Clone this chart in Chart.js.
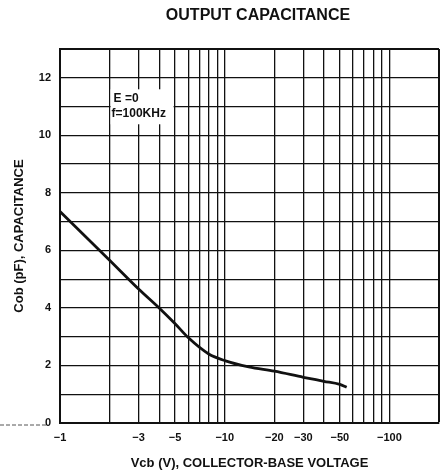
<!DOCTYPE html>
<html>
<head>
<meta charset="utf-8">
<script src="https://cdn.jsdelivr.net/npm/chart.js@4/dist/chart.umd.min.js"></script>
<style>
  body { margin: 0; background: #fff; }
  #wrap { width: 442px; height: 475px; }
</style>
</head>
<body>
<div id="wrap"><canvas id="cobChart" width="442" height="475"></canvas></div>
<script>
// --- data (|Vcb| in volts, Cob in pF) ---
const vcbVolts = [1, 2, 3, 4, 5, 6, 8, 10, 14, 20, 30, 40, 50, 55];
const cobPf = [7.35, 5.66, 4.66, 4.0, 3.45, 2.97, 2.4, 2.17, 1.95, 1.8, 1.59, 1.45, 1.34, 1.24];

// log grid lines and which of them get a label
const xGridValues = [1, 2, 3, 4, 5, 6, 7, 8, 9, 10, 20, 30, 40, 50, 60, 70, 80, 90, 100, 200];
const xLabelValues = [1, 3, 5, 10, 20, 30, 50, 100];
const yLabelValues = [0, 2, 4, 6, 8, 10, 12];

const noteLines = ['E =0', 'f=100KHz'];

const INK = '#111';
const FAMILY = '"Liberation Sans", Arial, sans-serif';

// title, condition note and the little dashed stub left of the axis
const extrasPlugin = {
  id: 'extras',
  afterDraw(chart) {
    const c = chart.ctx;
    const xs = chart.scales.x, ys = chart.scales.y;
    c.save();
    c.fillStyle = INK;
    c.font = 'bold 16px ' + FAMILY;
    c.textAlign = 'center';
    c.textBaseline = 'middle';
    c.fillText('OUTPUT CAPACITANCE', 258, 16);

    // white box behind the test conditions
    const bx = xs.getPixelForValue(2) + 1;
    const by = ys.getPixelForValue(11.6);
    c.fillStyle = '#fff';
    c.fillRect(bx, by, 63, 35);
    c.fillStyle = INK;
    c.font = 'bold 12px ' + FAMILY;
    c.textAlign = 'left';
    c.fillText(noteLines[0], bx + 3, by + 9);
    c.fillText(noteLines[1], bx + 1, by + 24);

    // scanner-ish dashed stub at the baseline
    c.strokeStyle = '#555';
    c.lineWidth = 1;
    c.setLineDash([4, 2]);
    c.beginPath();
    c.moveTo(0, ys.getPixelForValue(0) + 2);
    c.lineTo(chart.chartArea.left - 12, ys.getPixelForValue(0) + 2);
    c.stroke();
    c.restore();
  }
};

const ctx = document.getElementById('cobChart').getContext('2d');
new Chart(ctx, {
  type: 'line',
  data: {
    datasets: [{
      data: vcbVolts.map((v, i) => ({ x: v, y: cobPf[i] })),
      borderColor: INK,
      borderWidth: 2.8,
      pointRadius: 0,
      cubicInterpolationMode: 'monotone',
      fill: false
    }]
  },
  options: {
    responsive: false,
    animation: false,
    layout: { padding: { top: 49, right: 0, left: 0, bottom: 0 } },
    plugins: { legend: { display: false }, tooltip: { enabled: false } },
    scales: {
      x: {
        type: 'logarithmic',
        min: 1,
        max: 200,
        afterBuildTicks: s => { s.ticks = xGridValues.map(v => ({ value: v })); },
        afterFit: s => { s.height = 52; s.paddingRight = 3; },
        grid: {
          color: INK,
          lineWidth: c => (c.tick && c.tick.value === 200 ? 2 : 1.3),
          drawTicks: false
        },
        border: { display: true, color: INK, width: 2 },
        ticks: {
          autoSkip: false,
          maxRotation: 0,
          padding: 8,
          color: INK,
          font: { family: FAMILY, size: 11, weight: 'bold' },
          callback: v => (xLabelValues.includes(v) ? '\u2212' + v : '')
        },
        title: {
          display: true,
          text: 'Vcb (V), COLLECTOR-BASE VOLTAGE',
          color: INK,
          font: { family: FAMILY, size: 13, weight: 'bold' },
          padding: { top: 0, bottom: 4 }
        }
      },
      y: {
        min: 0,
        max: 13,
        afterFit: s => { s.width = 60; },
        grid: {
          color: INK,
          lineWidth: c => (c.tick && c.tick.value === 13 ? 2 : 1.3),
          drawTicks: false
        },
        border: { display: true, color: INK, width: 2 },
        ticks: {
          stepSize: 1,
          padding: 9,
          color: INK,
          font: { family: FAMILY, size: 11, weight: 'bold' },
          callback: v => (yLabelValues.includes(v) ? String(v) : '')
        },
        title: {
          display: true,
          text: 'Cob (pF), CAPACITANCE',
          color: INK,
          font: { family: FAMILY, size: 13, weight: 'bold' },
          padding: { top: 12, bottom: 0 }
        }
      }
    }
  },
  plugins: [extrasPlugin]
});
</script>
</body>
</html>
